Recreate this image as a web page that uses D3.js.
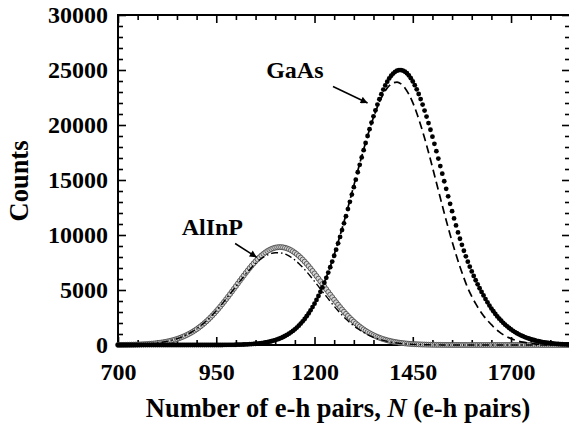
<!DOCTYPE html>
<html>
<head>
<meta charset="utf-8">
<script src="https://cdn.jsdelivr.net/npm/d3@7"></script>
<style>
  html, body { margin: 0; padding: 0; background: #fff; }
  svg { display: block; }
  text { font-family: "Liberation Serif", "Times New Roman", serif; font-weight: bold; fill: #000; }
</style>
</head>
<body>
<svg id="chart" width="569" height="428"></svg>
<script>
// ---------------- DATA ----------------
// measured spectra: N from 700 to 1850 in steps of 5
const dataStart = 700, dataStep = 5;
const gaasCounts = [
  0,0,0,0,0,0,0,0,0,0,
  0,0,0,0,0,0,0,0,0,0,
  0,0,0,0,0,0,0,0,0,0,
  0,0,0,0,0,0,0,0,0,0,
  0,0,0,0,0,0,0,0,0,0,
  0,0,0,0,8,10,12,14,17,20,
  24,28,33,39,45,53,62,72,84,98,
  113,131,151,174,200,230,263,301,343,390,
  444,503,569,643,726,816,917,1027,1148,1282,
  1428,1588,1761,1949,2153,2375,2614,2871,3148,3444,
  3760,4097,4456,4837,5238,5663,6111,6581,7072,7583,
  8112,8665,9243,9823,10447,11063,11705,12357,13017,13679,
  14351,15026,15703,16380,17049,17714,18365,18998,19617,20216,
  20790,21336,21860,22351,22806,23224,23602,23938,24231,24478,
  24679,24832,24936,24991,24996,24949,24852,24703,24505,24258,
  23964,23625,23243,22819,22357,21857,21313,20767,20176,19567,
  18935,18285,17617,16948,16264,15577,14888,14200,13515,12838,
  12169,11511,10866,10237,9657,9110,8567,8062,7575,7122,
  6692,6281,5887,5514,5159,4823,4503,4175,3880,3588,
  3314,3067,2828,2602,2391,2203,2019,1849,1700,1553,
  1418,1293,1176,1070,972,882,800,724,655,592,
  534,481,431,382,339,299,264,233,205,180,
  158,138,120,105,91,79,69,60,52,44,
  38
];
const alinpCounts = [
  9,11,13,15,17,20,24,28,32,38,
  44,51,58,67,77,89,101,116,132,150,
  171,194,219,248,279,314,353,395,442,493,
  549,610,677,749,827,911,1002,1100,1204,1316,
  1435,1563,1698,1842,1993,2151,2318,2493,2677,2868,
  3067,3273,3486,3704,3928,4157,4390,4627,4866,5108,
  5351,5594,5836,6076,6313,6547,6775,6997,7212,7418,
  7615,7801,7975,8137,8285,8419,8538,8641,8727,8796,
  8848,8882,8899,8897,8877,8839,8784,8711,8621,8515,
  8393,8257,8106,7941,7765,7576,7377,7169,6952,6729,
  6500,6266,6028,5788,5546,5303,5060,4818,4579,4343,
  4111,3883,3661,3444,3231,3027,2830,2641,2460,2286,
  2120,1963,1813,1671,1537,1411,1293,1182,1080,983,
  894,811,734,663,598,538,482,432,386,345,
  306,272,242,214,189,167,147,129,113,99,
  86,75,65,57,49,42,37,31,27,23,
  20,17,14,12,10,8,7,6,5,4,
  3,3,2,2,1,1,1,1,0,0,
  0,0,0,0,0,0,0,0,0,0,
  0,0,0,0,0,0,0,0,0,0,
  0,0,0,0,0,0,0,0,0,0,
  0,0,0,0,0,0,0,0,0,0,
  0,0,0,0,0,0,0,0,0,0,
  0
];
// fitted curves: N from 700 to 1850 in steps of 10
const fitStart = 700, fitStep = 10;
const gaasFit = [
  0,0,0,0,0,0,0,0,0,0,
  0,0,0,0,0,0,0,0,0,0,
  0,0,0,1,1,2,4,6,9,13,
  19,27,37,52,72,98,133,178,237,313,
  409,529,682,871,1102,1378,1711,2107,2573,3118,
  3744,4458,5261,6156,7142,8209,9354,10570,11843,13159,
  14496,15836,17148,18406,19600,20690,21652,22466,23110,23570,
  23835,23898,23741,23371,22795,22028,21092,20004,18809,17523,
  16163,14773,13379,12004,10676,9414,8228,7119,6100,5173,
  4420,3757,3174,2667,2228,1852,1492,1193,944,741,
  577,445,340,258,194,145,107,78,57,41,
  29,21,15,10,7,5
];
const alinpFit = [
  10,13,18,25,34,46,61,81,107,139,
  180,230,293,369,461,571,702,856,1035,1241,
  1476,1741,2036,2362,2720,3107,3522,3963,4424,4863,
  5327,5785,6232,6658,7054,7413,7726,7985,8186,8322,
  8391,8391,8322,8186,7985,7726,7413,7054,6658,6232,
  5785,5327,4863,4424,3963,3522,3107,2720,2362,2036,
  1741,1476,1241,1035,856,702,571,461,369,293,
  230,180,139,107,81,61,46,34,25,18,
  13,10,7,5,4,3,2,2,1,1,
  1,0,0,0,0,0,0,0,0,0,
  0,0,0,0,0,0,0,0,0,0,
  0,0,0,0,0,0
];
// axes
const xDomain = [700, 1850];
const yDomain = [0, 30000];
const xMajorTicks = [700, 950, 1200, 1450, 1700];
const yMajorTicks = [0, 5000, 10000, 15000, 20000, 25000, 30000];
const xMinorStep = 50, yMinorStep = 1000;
const xTitle = "Number of e-h pairs, ";
const xTitleItalic = "N";
const xTitleEnd = " (e-h pairs)";
const yTitle = "Counts";
// annotations (data coordinates)
const labels = [
  {text: "GaAs", n: 1077, c: 24245, from: [1247, 23500], to: [1335, 22000]},
  {text: "AlInP", n: 862, c: 10000, from: [998, 9227], to: [1053, 7973]}
];

// ---------------- CHART ----------------
const svg = d3.select("#chart");
const pL = 118, pR = 570, pT = 15, pB = 345;
const x = d3.scaleLinear().domain(xDomain).range([pL, pR]);
const y = d3.scaleLinear().domain(yDomain).range([pB, pT]);

const toPts = (arr, start, step) => arr.map((v, i) => ({n: start + i * step, c: v}));
const gaasPts = toPts(gaasCounts, dataStart, dataStep);
const alinpPts = toPts(alinpCounts, dataStart, dataStep);
const gaasFitPts = toPts(gaasFit, fitStart, fitStep);
const alinpFitPts = toPts(alinpFit, fitStart, fitStep);

const xMinor = d3.range(xDomain[0], xDomain[1] + 1, xMinorStep).filter(v => !xMajorTicks.includes(v));
const yMinor = d3.range(yDomain[0], yDomain[1] + 1, yMinorStep).filter(v => !yMajorTicks.includes(v));

function styleAxis(g) {
  g.select(".domain").remove();
  g.selectAll(".tick line").attr("stroke", "#000").attr("stroke-width", 1.6);
  g.selectAll("text").attr("font-family", '"Liberation Serif", "Times New Roman", serif')
    .attr("font-weight", "bold").attr("font-size", 24).attr("fill", "#000");
}
// major ticks
svg.append("g").attr("transform", `translate(0,${pB})`)
  .call(d3.axisBottom(x).tickValues(xMajorTicks).tickSize(-8).tickSizeOuter(0).tickPadding(18).tickFormat(d3.format("d")))
  .call(styleAxis);
svg.append("g").attr("transform", `translate(0,${pT})`)
  .call(d3.axisTop(x).tickValues(xMajorTicks).tickSize(-8).tickSizeOuter(0).tickFormat(""))
  .call(styleAxis);
svg.append("g").attr("transform", `translate(${pL},0)`)
  .call(d3.axisLeft(y).tickValues(yMajorTicks).tickSize(-8).tickSizeOuter(0).tickPadding(10).tickFormat(d3.format("d")))
  .call(styleAxis);
svg.append("g").attr("transform", `translate(${pR},0)`)
  .call(d3.axisRight(y).tickValues(yMajorTicks).tickSize(-8).tickSizeOuter(0).tickFormat(""))
  .call(styleAxis);
// minor ticks
svg.append("g").attr("transform", `translate(0,${pB})`)
  .call(d3.axisBottom(x).tickValues(xMinor).tickSize(-5).tickSizeOuter(0).tickFormat("")).call(styleAxis);
svg.append("g").attr("transform", `translate(0,${pT})`)
  .call(d3.axisTop(x).tickValues(xMinor).tickSize(-5).tickSizeOuter(0).tickFormat("")).call(styleAxis);
svg.append("g").attr("transform", `translate(${pL},0)`)
  .call(d3.axisLeft(y).tickValues(yMinor).tickSize(-5).tickSizeOuter(0).tickFormat("")).call(styleAxis);
svg.append("g").attr("transform", `translate(${pR},0)`)
  .call(d3.axisRight(y).tickValues(yMinor).tickSize(-5).tickSizeOuter(0).tickFormat("")).call(styleAxis);

// frame
svg.append("rect").attr("x", pL).attr("y", pT).attr("width", pR - pL).attr("height", pB - pT)
  .attr("fill", "none").attr("stroke", "#000").attr("stroke-width", 2);

// AlInP data (open grey circles)
svg.append("g").selectAll("circle").data(alinpPts).join("circle")
  .attr("cx", d => x(d.n)).attr("cy", d => y(d.c)).attr("r", 2.5)
  .attr("fill", "#d4d4d4").attr("stroke", "#3a3a3a").attr("stroke-width", 0.75);

// GaAs data (filled black circles)
svg.append("g").selectAll("circle").data(gaasPts).join("circle")
  .attr("cx", d => x(d.n)).attr("cy", d => y(d.c)).attr("r", 2.4)
  .attr("fill", "#000");

// fits
const line = d3.line().x(d => x(d.n)).y(d => y(d.c)).curve(d3.curveMonotoneX);
svg.append("path").datum(gaasFitPts).attr("d", line)
  .attr("fill", "none").attr("stroke", "#000").attr("stroke-width", 1.7).attr("stroke-dasharray", "8,4.5");
svg.append("path").datum(alinpFitPts).attr("d", line)
  .attr("fill", "none").attr("stroke", "#000").attr("stroke-width", 1.4).attr("stroke-dasharray", "7,3,1.5,3");

// arrow marker
svg.append("defs").append("marker").attr("id", "arrow")
  .attr("viewBox", "0 0 10 10").attr("refX", 10).attr("refY", 5)
  .attr("markerWidth", 8).attr("markerHeight", 7).attr("markerUnits", "userSpaceOnUse")
  .attr("orient", "auto")
  .append("path").attr("d", "M0,0 L10,5 L0,10 Z").attr("fill", "#000");

labels.forEach(l => {
  svg.append("text").attr("x", x(l.n)).attr("y", y(l.c)).attr("font-size", 24).text(l.text);
  svg.append("line")
    .attr("x1", x(l.from[0])).attr("y1", y(l.from[1]))
    .attr("x2", x(l.to[0])).attr("y2", y(l.to[1]))
    .attr("stroke", "#000").attr("stroke-width", 1.5).attr("marker-end", "url(#arrow)");
});

// axis titles
const xt = svg.append("text").attr("x", 338).attr("y", 417).attr("text-anchor", "middle").attr("font-size", 26.5);
xt.append("tspan").text(xTitle);
xt.append("tspan").attr("font-style", "italic").text(xTitleItalic);
xt.append("tspan").text(xTitleEnd);

svg.append("text").attr("transform", `translate(28,${(pT + pB) / 2 + 1}) rotate(-90)`)
  .attr("text-anchor", "middle").attr("font-size", 26.5).text(yTitle);
</script>
</body>
</html>
